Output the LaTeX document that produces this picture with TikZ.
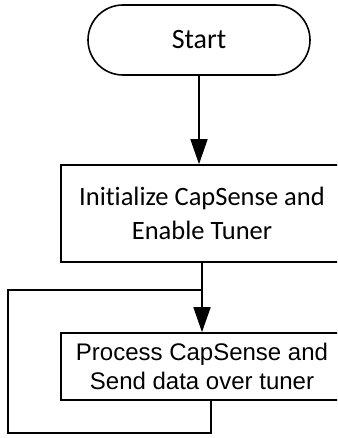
\documentclass[tikz,border=0pt]{standalone}
\usepackage{fontspec}
\newfontfamily\calfont[RawFeature=-liga]{Carlito}
\newfontfamily\arialfont{Liberation Sans}
\usetikzlibrary{arrows.meta}

\begin{document}
\begin{tikzpicture}[
  x=1pt, y=-1pt,
  terminal/.style={rectangle, rounded corners=35pt, draw=black, line width=1.6pt,
                   minimum width=222pt, minimum height=70pt, inner sep=0pt,
                   font=\calfont\fontsize{28}{34}\selectfont},
  procbox/.style={rectangle, draw=black, line width=1.6pt, align=center,
                  minimum width=282pt, inner sep=0pt},
  arr/.style={-{Triangle[length=25pt, width=17pt]}, line width=1.5pt},
  loopline/.style={line width=1.1pt},
]
\useasboundingbox (0,0) rectangle (337,438);
\clip (0,0) rectangle (337,438);

% Start
\node[terminal] (S) at (199,40) {Start};

% Process boxes
\node[procbox, minimum height=97pt,
      font=\calfont\fontsize{26.5}{34}\selectfont] (B1) at (202,213.5)
  {Initialize CapSense and\\Enable Tuner};
\node[procbox, minimum height=67pt,
      font=\arialfont\fontsize{24}{29}\selectfont] (B2) at (202,366.5)
  {Process CapSense and\\Send data over tuner};

% Start -> init
\draw[arr] (S.south) -- (S.south |- B1.north);

% init -> process
\draw[arr] (B1.south) -- (B2.north);

% Loop back
\coordinate (L0) at ([xshift=9pt]B2.south);
\coordinate (L1) at (B1.south |- 0,290);
\draw[loopline] (L0) -- (L0 |- 0,433) -- (8,433) -- (8,290) -- (L1);

\end{tikzpicture}
\end{document}
